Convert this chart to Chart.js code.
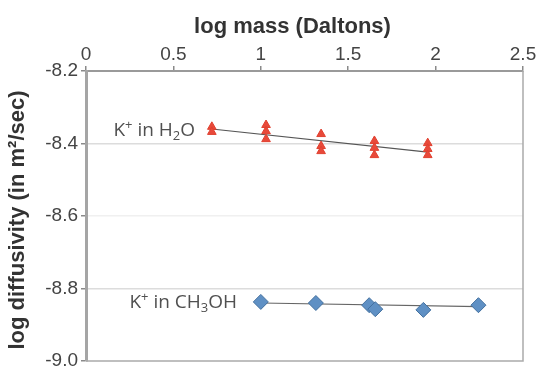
<!DOCTYPE html>
<html>
<head>
<meta charset="utf-8">
<script src="https://cdn.jsdelivr.net/npm/chart.js@4.4.1/dist/chart.umd.min.js"></script>
<style>
  html, body { margin: 0; padding: 0; background: #fff; overflow: hidden; }
  #wrap { width: 550px; height: 366px; overflow: hidden; }
</style>
</head>
<body>
<div id="wrap"><canvas id="c" width="550" height="372"></canvas></div>
<script>
// ---- data ----
const massH2O = [0.72, 0.72, 1.03, 1.03, 1.03, 1.345, 1.345, 1.345, 1.65, 1.65, 1.65, 1.955, 1.955, 1.955];
const diffH2O = [-8.354, -8.368, -8.349, -8.366, -8.388, -8.374, -8.407, -8.421, -8.393, -8.412, -8.432, -8.399, -8.415, -8.432];
const massMeOH = [1.0, 1.315, 1.62, 1.655, 1.93, 2.245];
const diffMeOH = [-8.837, -8.840, -8.846, -8.857, -8.859, -8.846];
const fitH2OMass = [0.72, 1.955];
const fitH2ODiff = [-8.360, -8.424];
const fitMeOHMass = [1.0, 2.245];
const fitMeOHDiff = [-8.840, -8.850];
const xTicks = [0, 0.5, 1, 1.5, 2, 2.5];
const yTicks = [-9.0, -8.8, -8.6, -8.4, -8.2];
const xTitle = 'log mass (Daltons)';
const yTitle = 'log diffusivity (in m\u00B2/sec)';
const labelH2O = [{t: 'K'}, {t: '+', s: 'sup'}, {t: ' in H'}, {t: '2', s: 'sub'}, {t: 'O'}];
const labelMeOH = [{t: 'K'}, {t: '+', s: 'sup'}, {t: ' in CH'}, {t: '3', s: 'sub'}, {t: 'OH'}];
const labelAnchors = [
  {parts: labelH2O, x: 0.624, y: -8.365},
  {parts: labelMeOH, x: 0.864, y: -8.840}
];

const pts = (xs, ys) => xs.map((x, i) => ({x: x, y: ys[i]}));
const titleFont = 'bold 22px Arial, "Liberation Sans", sans-serif';

const frameAndLabels = {
  id: 'frameAndLabels',
  beforeDatasetsDraw(chart) {
    const {ctx, chartArea: a} = chart;
    ctx.save();
    ctx.strokeStyle = '#ababab';
    ctx.lineWidth = 1.5;
    ctx.beginPath();
    ctx.moveTo(a.right, a.top);
    ctx.lineTo(a.right, a.bottom);
    ctx.lineTo(a.left, a.bottom);
    ctx.stroke();
    ctx.restore();
  },
  afterDraw(chart) {
    const {ctx, chartArea: a} = chart;
    const xs = chart.scales.x, ys = chart.scales.y;
    // axis titles
    ctx.save();
    ctx.fillStyle = '#333';
    ctx.font = titleFont;
    ctx.textAlign = 'center';
    ctx.textBaseline = 'middle';
    ctx.fillText(xTitle, (a.left + a.right) / 2 - 12, 27);
    ctx.translate(18, (a.top + a.bottom) / 2 + 4);
    ctx.rotate(-Math.PI / 2);
    ctx.fillText(yTitle, 0, 0);
    ctx.restore();
    // in-plot labels
    const size = 19;
    const fam = '"Open Sans", "Noto Sans", sans-serif';
    ctx.save();
    ctx.fillStyle = '#505050';
    ctx.textBaseline = 'middle';
    ctx.textAlign = 'left';
    labelAnchors.forEach(lab => {
      let w = 0;
      lab.parts.forEach(p => {
        ctx.font = (p.s ? Math.round(size * 0.7) : size) + 'px ' + fam;
        w += ctx.measureText(p.t).width;
      });
      let px = xs.getPixelForValue(lab.x) - w;
      const py = ys.getPixelForValue(lab.y);
      lab.parts.forEach(p => {
        ctx.font = (p.s ? Math.round(size * 0.7) : size) + 'px ' + fam;
        let dy = 0;
        if (p.s === 'sup') dy = -size * 0.28;
        if (p.s === 'sub') dy = size * 0.28;
        ctx.fillText(p.t, px, py + dy);
        px += ctx.measureText(p.t).width;
      });
    });
    ctx.restore();
  }
};

const zeroPad = s => { s.paddingTop = 0; s.paddingBottom = 0; s.paddingLeft = 0; s.paddingRight = 0; };

new Chart(document.getElementById('c'), {
  type: 'scatter',
  data: {
    datasets: [
      {
        label: 'K+ in H2O',
        data: pts(massH2O, diffH2O),
        pointStyle: 'triangle',
        pointRadius: 5,
        backgroundColor: '#e8493a',
        borderColor: '#e0402f',
        borderWidth: 1,
        order: 1
      },
      {
        label: 'K+ in CH3OH',
        data: pts(massMeOH, diffMeOH),
        pointStyle: 'rectRot',
        pointRadius: 7.5,
        backgroundColor: '#5f90c4',
        borderColor: '#43709f',
        borderWidth: 1,
        order: 1
      },
      {
        label: 'fit H2O',
        type: 'line',
        data: pts(fitH2OMass, fitH2ODiff),
        borderColor: '#555',
        borderWidth: 1.2,
        pointRadius: 0,
        fill: false,
        order: 2
      },
      {
        label: 'fit CH3OH',
        type: 'line',
        data: pts(fitMeOHMass, fitMeOHDiff),
        borderColor: '#666',
        borderWidth: 1.2,
        pointRadius: 0,
        fill: false,
        order: 2
      }
    ]
  },
  options: {
    responsive: false,
    animation: false,
    layout: { autoPadding: false, padding: { left: 0, top: 0, right: 27, bottom: 11 } },
    plugins: { legend: { display: false }, tooltip: { enabled: false } },
    scales: {
      x: {
        type: 'linear',
        position: 'top',
        min: 0, max: 2.5,
        afterBuildTicks: s => { s.ticks = xTicks.map(v => ({value: v})); },
        afterFit: s => { s.height = 71; zeroPad(s); },
        ticks: {
          color: '#444',
          font: { family: 'Arial, "Liberation Sans", sans-serif', size: 19 },
          padding: 0,
          callback: v => String(v)
        },
        grid: { drawOnChartArea: false, drawTicks: true, tickLength: 5, color: '#8a8a8a', lineWidth: 1.5 },
        border: { display: true, color: '#9a9a9a', width: 2 },
        title: { display: false }
      },
      y: {
        type: 'linear',
        position: 'left',
        min: -9.0, max: -8.2,
        afterBuildTicks: s => { s.ticks = yTicks.map(v => ({value: v})); },
        afterFit: s => { s.width = 86; zeroPad(s); },
        ticks: {
          color: '#444',
          font: { family: 'Arial, "Liberation Sans", sans-serif', size: 19 },
          padding: 3,
          callback: v => Number(v).toFixed(1)
        },
        grid: {
          drawTicks: true,
          tickLength: 5,
          tickColor: '#8a8a8a',
          color: c => {
            const v = c.tick ? Math.round(c.tick.value * 10) / 10 : 0;
            if (v === -8.4 || v === -8.8) return '#dcdcdc';
            if (v === -8.6) return '#f0f0f0';
            return 'rgba(0,0,0,0)';
          },
          lineWidth: 1.5
        },
        border: { display: true, color: '#a5a5a5', width: 3 },
        title: { display: false }
      }
    }
  },
  plugins: [frameAndLabels]
});
</script>
</body>
</html>
